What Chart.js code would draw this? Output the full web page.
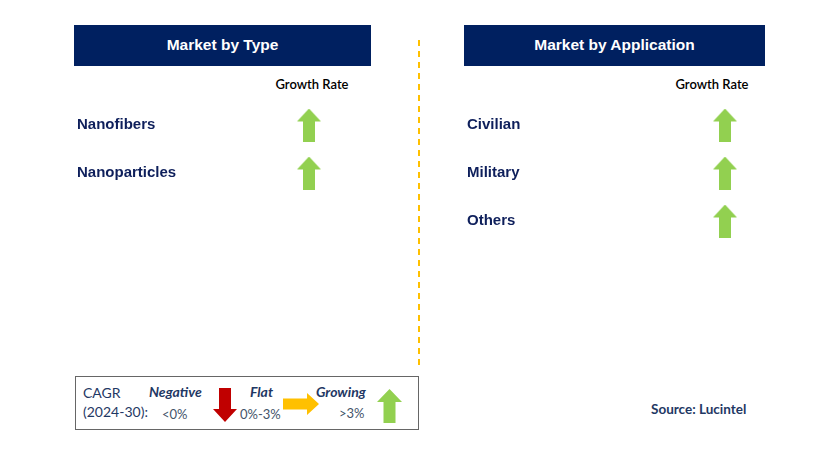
<!DOCTYPE html>
<html>
<head>
<meta charset="utf-8">
<script src="https://cdn.jsdelivr.net/npm/chart.js@4"></script>
<style>
  body { margin: 0; background: #fff; }
  #page { position: relative; width: 829px; height: 454px; overflow: hidden; font-family: "Liberation Sans", Arial, sans-serif; }
  .abs { position: absolute; }
  .head { background: #002060; color: #fff; font-weight: bold; font-size: 15.5px; text-align: center; line-height: 40px; height: 41px; top: 25px; }
  .gr { font-family: Lato, sans-serif; font-size: 13px; font-weight: 600; color: #000; top: 76px; width: 120px; text-align: center; }
  .lg { font-family: Lato, sans-serif; font-size: 13px; color: #1f3864; white-space: nowrap; }
  .lgi { font-style: italic; font-weight: bold; font-size: 14px; }
  .lgs { color: #44546a; font-size: 13px; }
  canvas.arrow { position: absolute; }
</style>
</head>
<body>
<div id="page">
  <div class="abs head" style="left:74px;width:297px;">Market by Type</div>
  <div class="abs head" style="left:464px;width:301px;">Market by Application</div>
  <div class="abs gr" id="grLeft" style="left:252px;"></div>
  <div class="abs gr" id="grRight" style="left:652px;"></div>

  <div class="abs" style="left:74px;top:101px;width:297px;height:96px;"><canvas id="typeChart"></canvas></div>
  <div class="abs" style="left:464px;top:101px;width:301px;height:144px;"><canvas id="appChart"></canvas></div>

  <div class="abs" style="left:418px;top:40px;width:2px;height:326px;background:repeating-linear-gradient(to bottom,#FFC000 0 6px,transparent 6px 11px);"></div>

  <div class="abs" style="left:75px;top:376px;width:342px;height:52px;border:1px solid #666;"></div>
  <div class="abs lg" style="left:83px;top:384px;font-size:14px;">CAGR</div>
  <div class="abs lg" style="left:83px;top:403px;font-size:14px;">(2024-30):</div>
  <div class="abs lg lgi" style="left:149px;top:383px;">Negative</div>
  <div class="abs lg lgs" style="left:162px;top:406px;">&lt;0%</div>
  <div class="abs lg lgi" style="left:250px;top:383px;">Flat</div>
  <div class="abs lg lgs" style="left:240px;top:406px;">0%-3%</div>
  <div class="abs lg lgi" style="left:316px;top:383px;">Growing</div>
  <div class="abs lg lgs" style="left:339px;top:405px;">&gt;3%</div>
  <canvas class="arrow" id="lgDown" style="left:213px;top:388px;" width="24" height="34"></canvas>
  <canvas class="arrow" id="lgFlat" style="left:283px;top:393px;" width="36" height="22"></canvas>
  <canvas class="arrow" id="lgUp" style="left:377px;top:389px;" width="25" height="34"></canvas>

  <div class="abs lg" style="left:651px;top:401px;font-weight:bold;font-size:13.5px;color:#1f3864;">Source: Lucintel</div>
</div>

<script>
// data
const growthLabel = 'Growth Rate';
const typeCategories = ['Nanofibers', 'Nanoparticles'];
const typeGrowth = ['Growing', 'Growing'];
const appCategories = ['Civilian', 'Military', 'Others'];
const appGrowth = ['Growing', 'Growing', 'Growing'];

const arrowColors = { Growing: '#92D050', Flat: '#FFC000', Negative: '#C00000' };

document.getElementById('grLeft').textContent = growthLabel;
document.getElementById('grRight').textContent = growthLabel;

// arrow shapes: head and shaft, pointing up / down / right
function drawArrow(cv, dir, color) {
  const ctx = cv.getContext('2d');
  const w = cv.width, h = cv.height;
  ctx.fillStyle = color;
  ctx.beginPath();
  if (dir === 'up' || dir === 'down') {
    const head = Math.round(h * 0.38), sw = Math.round(w * 0.48);
    const s0 = (w - sw) / 2, s1 = s0 + sw;
    let pts = [[w / 2, 0], [w, head], [s1, head], [s1, h], [s0, h], [s0, head], [0, head]];
    if (dir === 'down') pts = pts.map(p => [p[0], h - p[1]]);
    pts.forEach((p, i) => i ? ctx.lineTo(p[0], p[1]) : ctx.moveTo(p[0], p[1]));
  } else {
    const head = Math.round(w * 0.33), sh = Math.round(h * 0.5);
    const s0 = (h - sh) / 2, s1 = s0 + sh;
    const pts = [[w, h / 2], [w - head, h], [w - head, s1], [0, s1], [0, s0], [w - head, s0], [w - head, 0]];
    pts.forEach((p, i) => i ? ctx.lineTo(p[0], p[1]) : ctx.moveTo(p[0], p[1]));
  }
  ctx.closePath();
  ctx.fill();
}

function makeArrow(growth) {
  const cv = document.createElement('canvas');
  if (growth === 'Flat') { cv.width = 36; cv.height = 22; drawArrow(cv, 'right', arrowColors.Flat); }
  else { cv.width = 24; cv.height = 33; drawArrow(cv, growth === 'Growing' ? 'up' : 'down', arrowColors[growth]); }
  return cv;
}

drawArrow(document.getElementById('lgDown'), 'down', arrowColors.Negative);
drawArrow(document.getElementById('lgFlat'), 'right', arrowColors.Flat);
drawArrow(document.getElementById('lgUp'), 'up', arrowColors.Growing);

function panelChart(id, categories, growth, axisWidth) {
  return new Chart(document.getElementById(id), {
    type: 'scatter',
    data: {
      datasets: [{
        data: categories.map(c => ({ x: growthLabel, y: c })),
        pointStyle: growth.map(makeArrow),
        pointRadius: 16,
        clip: false
      }]
    },
    options: {
      responsive: true,
      maintainAspectRatio: false,
      animation: false,
      devicePixelRatio: 1,
      layout: { autoPadding: false, padding: { left: 3, right: 0, top: 0, bottom: 0 } },
      plugins: { legend: { display: false }, tooltip: { enabled: false } },
      scales: {
        x: { type: 'category', labels: [growthLabel], offset: true, display: false },
        y: {
          type: 'category',
          labels: categories,
          offset: true,
          grid: { display: false, drawTicks: false },
          border: { display: false },
          ticks: {
            crossAlign: 'far',
            color: '#0e1f5b',
            font: { family: 'Liberation Sans, Arial', size: 15, weight: 'bold' }
          },
          afterFit: s => { s.width = axisWidth; s.paddingTop = 0; s.paddingBottom = 0; }
        }
      }
    }
  });
}

panelChart('typeChart', typeCategories, typeGrowth, 170);
panelChart('appChart', appCategories, appGrowth, 218);
</script>
</body>
</html>
